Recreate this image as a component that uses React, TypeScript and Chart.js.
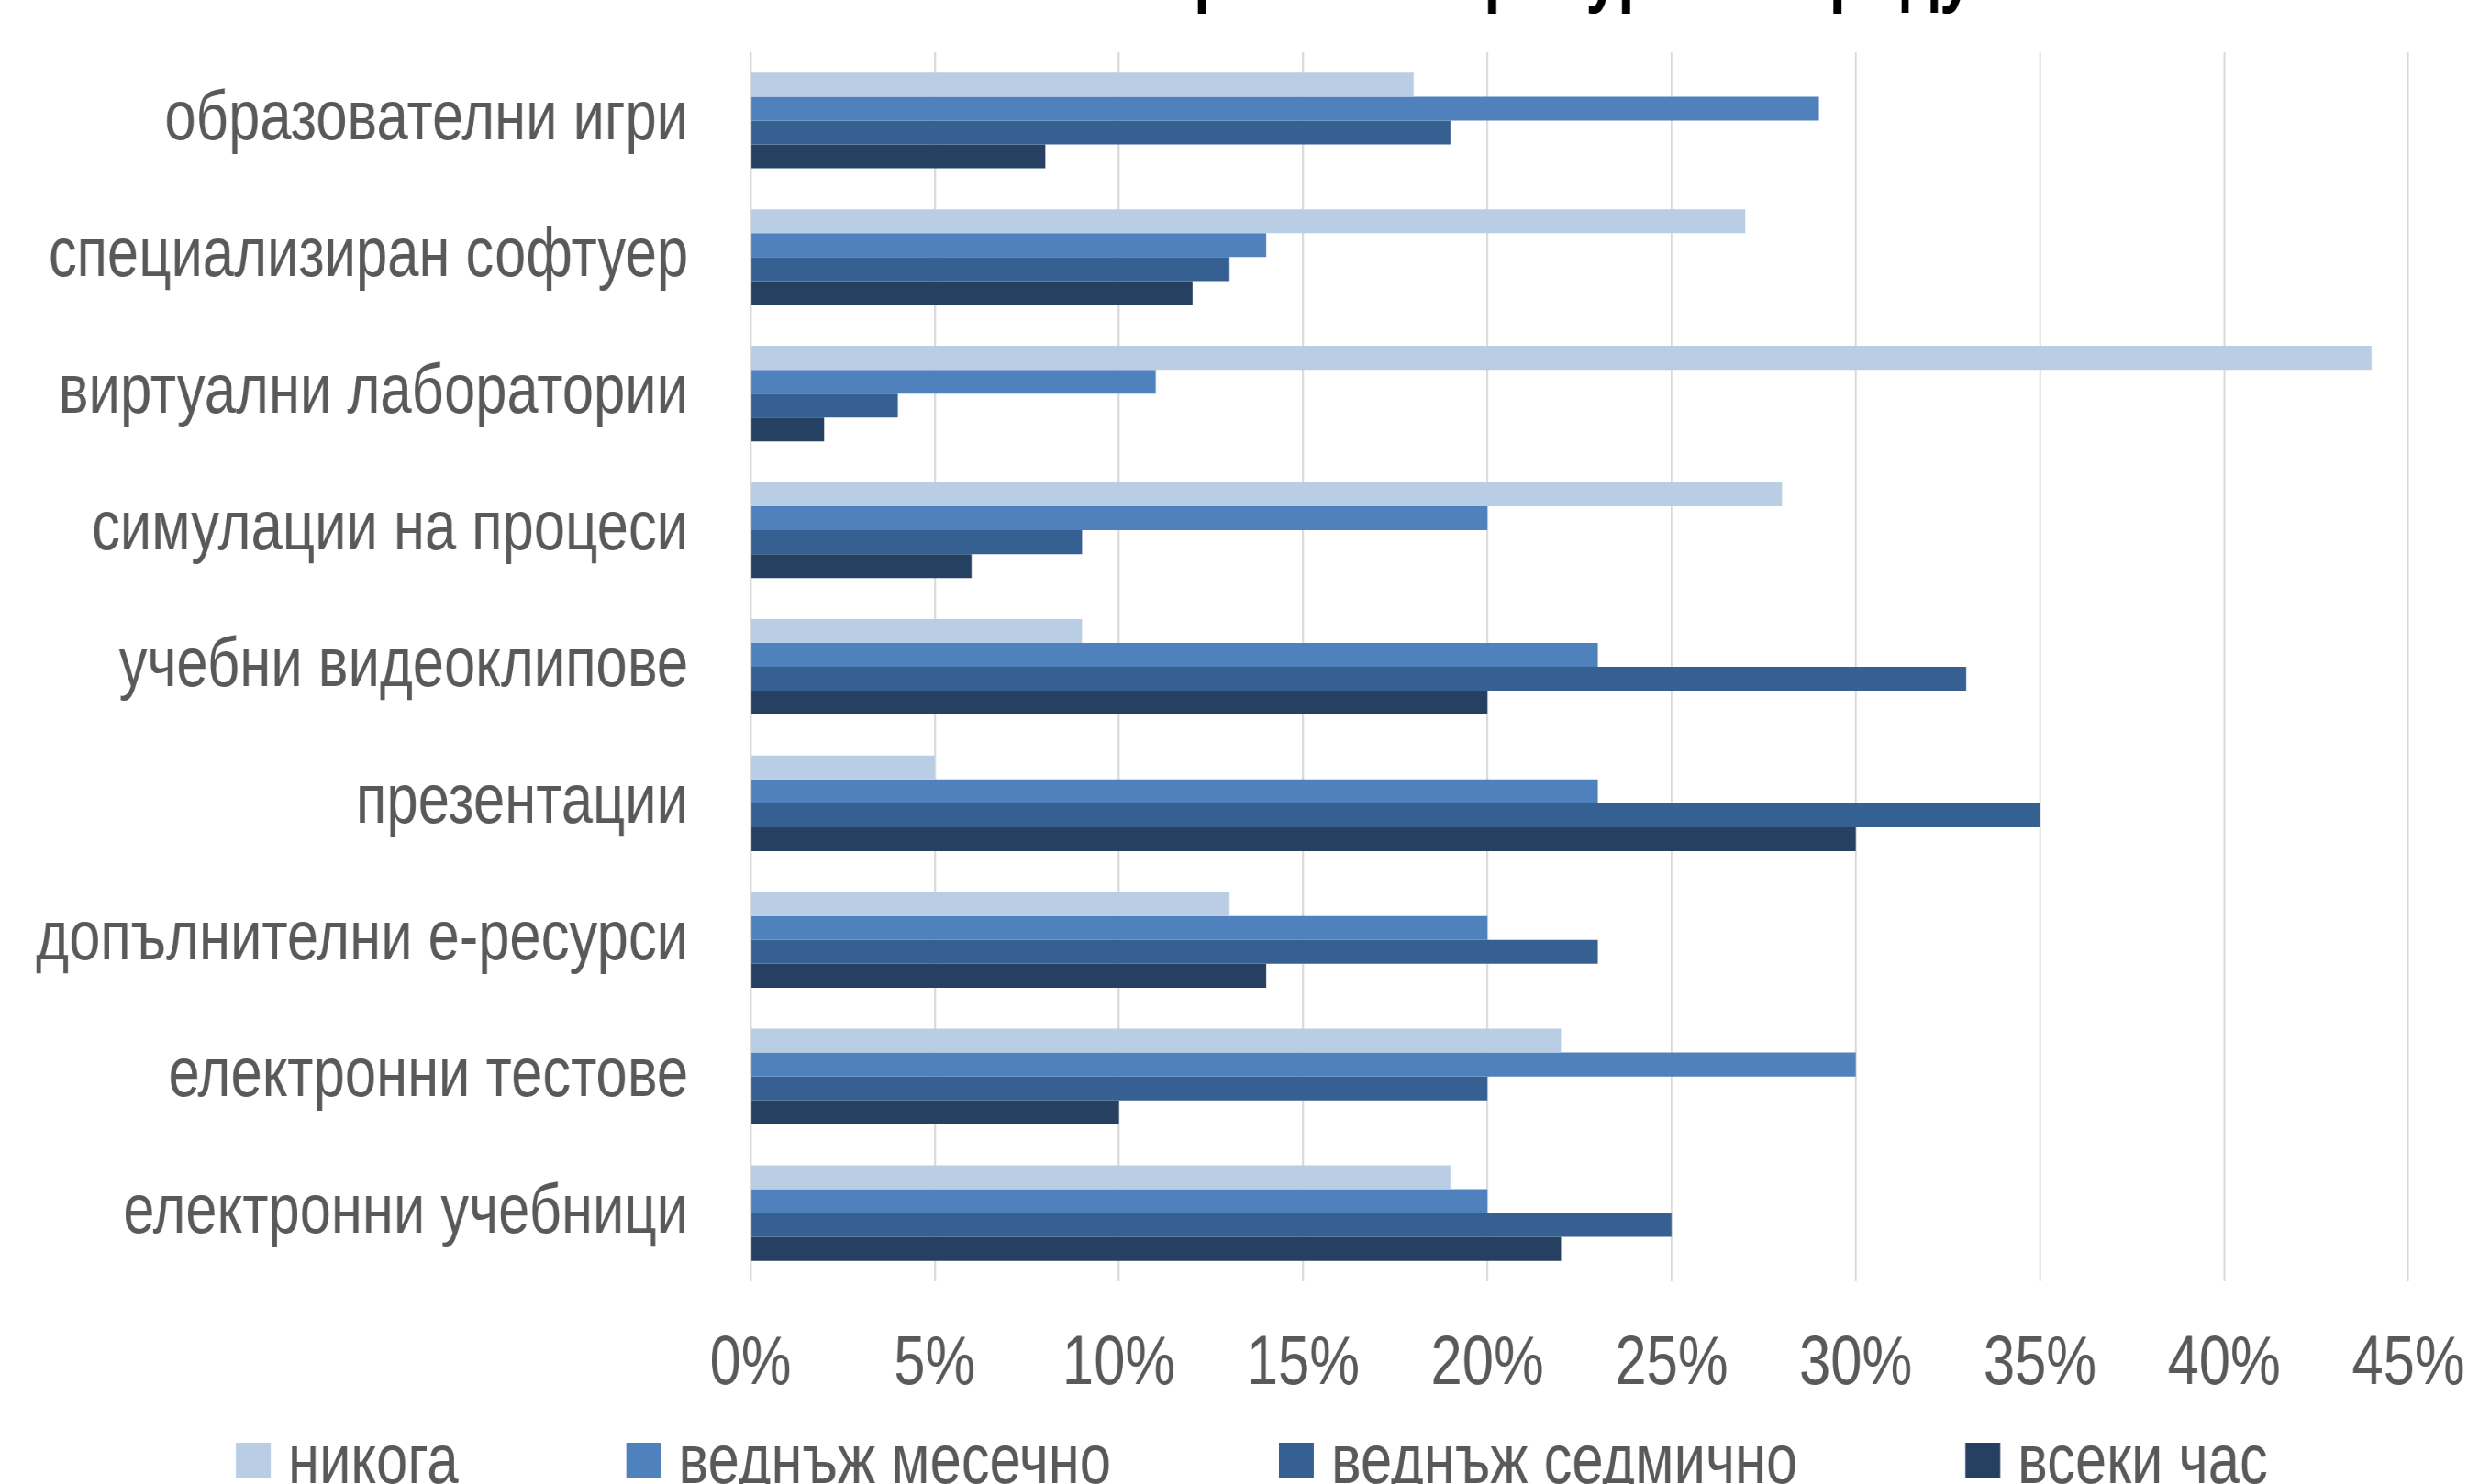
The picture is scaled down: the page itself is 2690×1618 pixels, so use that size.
import React, { useEffect, useRef } from "react";
import { Chart, registerables } from "chart.js";

Chart.register(...registerables);

// ---- data ----
const categories = [
  "образователни игри",
  "специализиран софтуер",
  "виртуални лаборатории",
  "симулации на процеси",
  "учебни видеоклипове",
  "презентации",
  "допълнителни е-ресурси",
  "електронни тестове",
  "електронни учебници",
];
const seriesNames = ["никога", "веднъж месечно", "веднъж седмично", "всеки час"];
const never = [18, 27, 44, 28, 9, 5, 13, 22, 19];
const monthly = [29, 14, 11, 20, 23, 23, 20, 30, 20];
const weekly = [19, 13, 4, 9, 33, 35, 23, 20, 25];
const hourly = [8, 12, 2, 6, 20, 30, 14, 10, 22];
const seriesColors = ["#B9CDE5", "#4F81BD", "#376092", "#254061"];
const xMax = 45;
const xStep = 5;
const titleText = "Честота на използване на интерактивни ресурси и продукти";
const titlePrefix = "Честота на използване на инте";

// ---- style / layout ----
// The canvas is drawn wider and squeezed horizontally by CSS (narrow-font look).
const SQ = 0.81;
const FONT = "'Liberation Sans', Arial, sans-serif";
const TEXT = "#595959";
const W = 2690;
const H = 1618;
const CW = Math.round(W / SQ);
const PLOT_LEFT = 818 / SQ;
const PLOT_RIGHT = 2625 / SQ;
const PLOT_TOP = 57;
const PLOT_BOTTOM = 1397;
const X_AXIS_H = 180;

const titlePlugin = {
  id: "cutTitle",
  afterDraw(chart: any) {
    const ctx = chart.ctx;
    ctx.save();
    ctx.font = `bold 80px ${FONT}`;
    ctx.fillStyle = "#000000";
    ctx.textAlign = "left";
    ctx.textBaseline = "alphabetic";
    const x0 = 1301 / SQ - ctx.measureText(titlePrefix).width;
    ctx.fillText(titleText, x0, -2);
    ctx.restore();
  },
};

const legendPlugin = {
  id: "cutLegend",
  afterDraw(chart: any) {
    const ctx = chart.ctx;
    ctx.save();
    ctx.font = `76px ${FONT}`;
    ctx.textAlign = "left";
    ctx.textBaseline = "alphabetic";
    let x = 257 / SQ;
    const boxW = 38 / SQ;
    const boxH = 39;
    const gap = 19 / SQ;
    const itemGap = 183 / SQ;
    chart.data.datasets.forEach((ds: any) => {
      ctx.fillStyle = ds.backgroundColor;
      ctx.fillRect(x, 1573, boxW, boxH);
      ctx.fillStyle = TEXT;
      ctx.fillText(ds.label, x + boxW + gap, 1617);
      x += boxW + gap + ctx.measureText(ds.label).width + itemGap;
    });
    ctx.restore();
  },
};

export default function App() {
  const ref = useRef<HTMLCanvasElement | null>(null);

  useEffect(() => {
    if (!ref.current) return;
    const values = [never, monthly, weekly, hourly];
    const chart = new Chart(ref.current, {
      type: "bar",
      data: {
        labels: categories,
        datasets: seriesNames.map((name, i) => ({
          label: name,
          data: values[i],
          backgroundColor: seriesColors[i],
          borderWidth: 0,
          categoryPercentage: 0.7,
          barPercentage: 1.0,
        })),
      },
      options: {
        indexAxis: "y",
        animation: false,
        responsive: false,
        maintainAspectRatio: false,
        devicePixelRatio: 1,
        layout: {
          padding: {
            left: 0,
            right: CW - PLOT_RIGHT,
            top: PLOT_TOP,
            bottom: H - PLOT_BOTTOM - X_AXIS_H,
          },
        },
        plugins: {
          legend: { display: false },
          title: { display: false },
          tooltip: { enabled: false },
        },
        scales: {
          x: {
            type: "linear",
            position: "bottom",
            min: 0,
            max: xMax,
            ticks: {
              stepSize: xStep,
              padding: 45,
              color: TEXT,
              font: { family: FONT, size: 76 },
              callback: (v: any) => `${v}%`,
            },
            grid: {
              color: "#D9D9D9",
              lineWidth: 2.5,
              drawTicks: false,
            },
            border: { display: false },
            afterFit: (scale: any) => {
              scale.height = X_AXIS_H;
              scale.paddingLeft = 0;
              scale.paddingRight = 0;
            },
          },
          y: {
            type: "category",
            position: "left",
            offset: true,
            ticks: {
              padding: 68 / SQ,
              color: TEXT,
              font: { family: FONT, size: 76 },
            },
            grid: { display: false, drawTicks: false },
            border: { display: false },
            afterFit: (scale: any) => {
              scale.width = PLOT_LEFT;
              scale.paddingTop = 0;
              scale.paddingBottom = 0;
            },
          },
        },
      },
      plugins: [titlePlugin, legendPlugin],
    } as any);
    return () => chart.destroy();
  }, []);

  return (
    <div
      style={{
        position: "fixed",
        left: 0,
        top: 0,
        width: W,
        height: H,
        overflow: "hidden",
        background: "#ffffff",
      }}
    >
      <canvas
        ref={ref}
        width={CW}
        height={H}
        style={{ display: "block", width: `${W}px`, height: `${H}px` }}
      />
    </div>
  );
}
